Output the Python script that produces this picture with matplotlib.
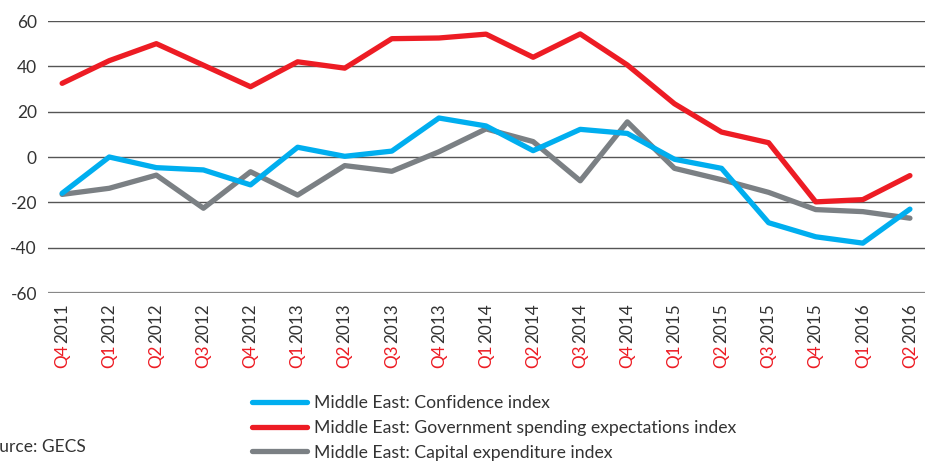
import matplotlib
matplotlib.use("Agg")
import matplotlib.pyplot as plt
import matplotlib.transforms as mtransforms

plt.rcParams['font.family'] = ['Lato', 'DejaVu Sans']

quarters = ["Q4", "Q1", "Q2", "Q3", "Q4", "Q1", "Q2", "Q3", "Q4", "Q1",
            "Q2", "Q3", "Q4", "Q1", "Q2", "Q3", "Q4", "Q1", "Q2"]
years = ["2011", "2012", "2012", "2012", "2012", "2013", "2013", "2013", "2013", "2014",
         "2014", "2014", "2014", "2015", "2015", "2015", "2015", "2016", "2016"]

confidence = [-16, 0, -4.7, -5.7, -12.3, 4.3, 0.3, 2.6, 17.2, 13.7,
              2.8, 12.2, 10.4, -1, -5, -29, -35.2, -38, -23]
gov_spending = [32.5, 42.5, 50, 40.5, 31, 42, 39.2, 52.2, 52.5, 54.2,
                44, 54.3, 40.6, 23.5, 11, 6.3, -19.8, -18.8, -8.2]
capex = [-16.5, -13.8, -8, -22.6, -6.5, -16.8, -3.8, -6.3, 2.3, 12.4,
         6.8, -10.5, 15.5, -5, -10, -15.6, -23.2, -24.1, -27]

yticks = [-60, -40, -20, 0, 20, 40, 60]
labels = ["Middle East: Confidence index",
          "Middle East: Government spending expectations index",
          "Middle East: Capital expenditure index"]

W, H = 933, 461
fig = plt.figure(figsize=(W / 100, H / 100), dpi=100)
ax = fig.add_axes([48 / W, 1 - 293 / H, (925 - 48) / W, (293 - 21) / H])

x = list(range(len(quarters)))
lw = 3.8
kw = dict(solid_joinstyle='round', solid_capstyle='round', zorder=3)
l_cap, = ax.plot(x, capex, color='#7b8084', lw=lw, label=labels[2], **kw)
l_conf, = ax.plot(x, confidence, color='#00aeef', lw=lw, label=labels[0], **kw)
l_gov, = ax.plot(x, gov_spending, color='#ed1c24', lw=lw, label=labels[1], **kw)

ax.set_ylim(-60, 60)
ax.set_xlim(-0.3, len(x) - 1 + 0.32)
ax.set_yticks(yticks)
ax.set_yticklabels([str(v) for v in yticks], fontsize=12.5, color='#333333')
ax.tick_params(axis='y', length=0, pad=8)
ax.set_xticks([])
for s in ax.spines.values():
    s.set_visible(False)
for v in yticks:
    ax.axhline(v, color='#555555' if v != -60 else '#888888', lw=1.0 if v != -60 else 1.6, zorder=1)

trans = mtransforms.blended_transform_factory(ax.transData, ax.transAxes)
for i, (q, yr) in enumerate(zip(quarters, years)):
    ax.annotate(yr, xy=(i, 0), xycoords=trans, xytext=(0, -7.2), textcoords='offset points',
                rotation=90, ha='center', va='top', fontsize=12.3, color='#333333',
                annotation_clip=False)
    ax.annotate(q, xy=(i, 0), xycoords=trans, xytext=(0, -54), textcoords='offset points',
                rotation=90, ha='center', va='bottom', fontsize=12.3, color='#ed1c24',
                annotation_clip=False)

fig.legend(handles=[l_conf, l_gov, l_cap], labels=labels, loc='upper left',
           bbox_to_anchor=(252 / W, 1 - 395 / H), frameon=False, fontsize=12.7,
           handlelength=3.1, handletextpad=0.4, labelspacing=0.5,
           borderpad=0, borderaxespad=0, labelcolor='#333333')

fig.text(-20 / W, 1 - 447 / H, "Source: GECS", fontsize=12.5, color='#333333',
         ha='left', va='center')

fig.savefig("out.png", dpi=100)
